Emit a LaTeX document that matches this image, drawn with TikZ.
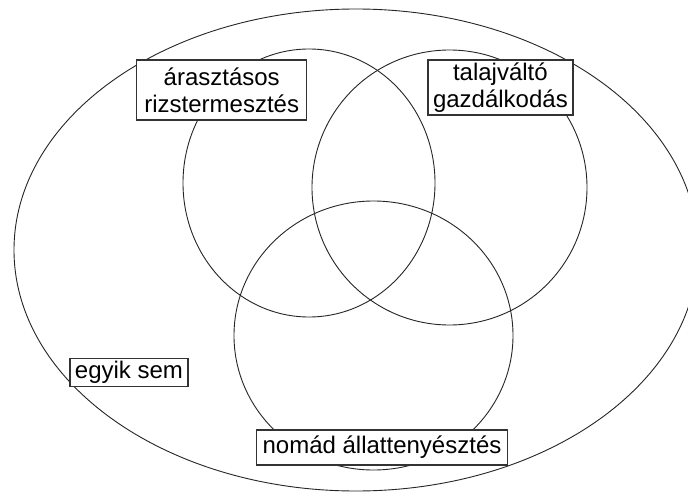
\documentclass[tikz,border=0pt]{standalone}
\usepackage{fontspec}
\setmainfont{Liberation Sans}
\begin{document}
\begin{tikzpicture}[x=1pt,y=-1pt,
  ring/.style={draw=black!85,line width=0.9pt},
  labelbox/.style={draw=black!80,line width=1.2pt,fill=white,inner sep=0pt,
    align=center,font=\fontsize{24}{27}\selectfont,text=black}]
\useasboundingbox (0,0) rectangle (688,492);
\clip (0,0) rectangle (688,492);
\fill[white] (0,0) rectangle (688,492);
\draw[ring] (356,250) ellipse [x radius=342, y radius=241];
\draw[ring] (309,183) ellipse [x radius=126, y radius=134];
\draw[ring] (449.5,187.5) ellipse [x radius=137.5, y radius=137.5];
\draw[ring] (373.5,335.5) ellipse [x radius=139.5, y radius=134.5];
\node[labelbox,minimum width=170pt,minimum height=60pt] (rice) at (221.7,90) {árasztásos\\rizstermesztés};
\node[labelbox,minimum width=145pt,minimum height=55pt] (shift) at (500.4,87.5) {talajváltó\\gazdálkodás};
\node[labelbox,minimum width=118pt,minimum height=28pt] (none) at (129,372.5) {egyik sem};
\node[labelbox,minimum width=251pt,minimum height=35pt] (nomad) at (382,447.5) {nomád állattenyésztés};
\end{tikzpicture}
\end{document}
